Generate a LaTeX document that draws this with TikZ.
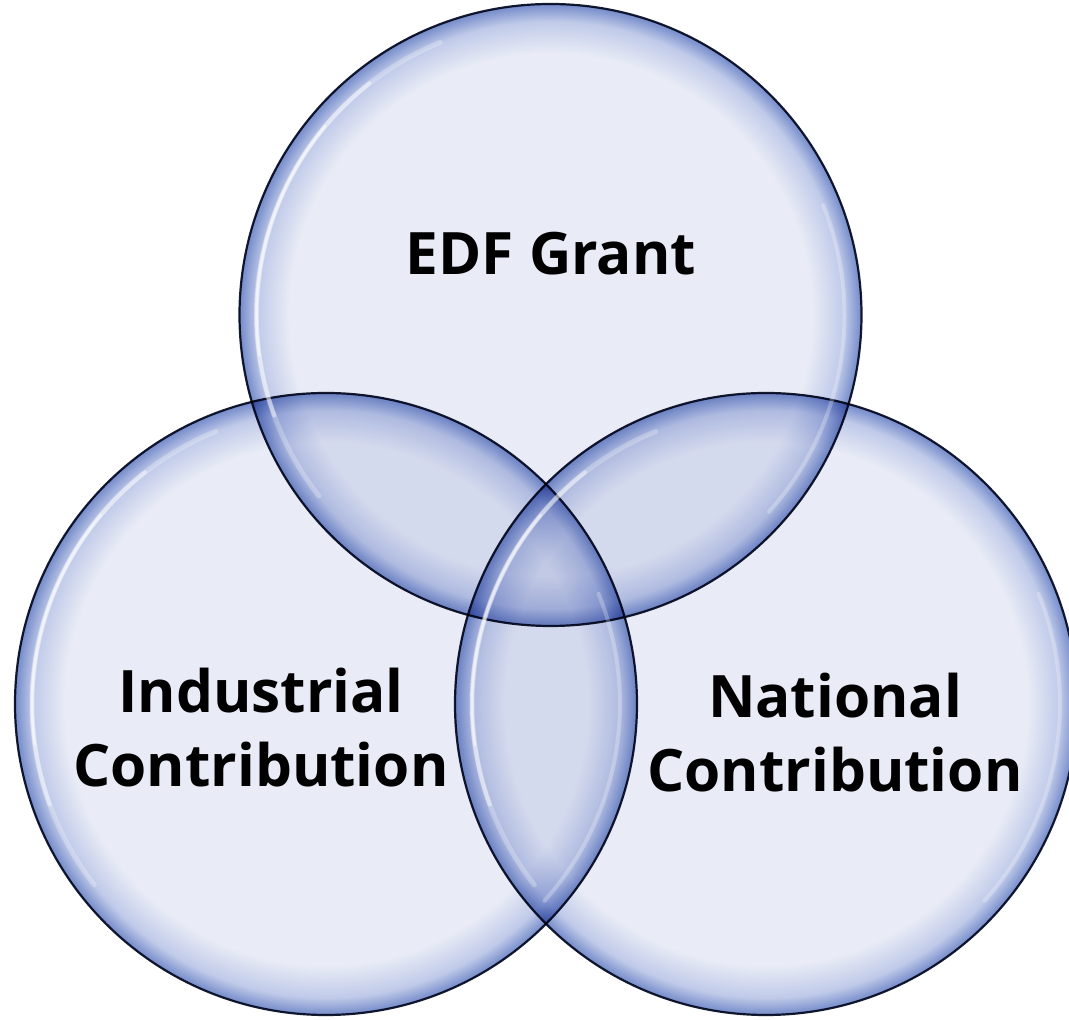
\documentclass[tikz,border=0pt]{standalone}
\usepackage{fontspec}
\setmainfont{Open Sans}
\definecolor{vfill}{HTML}{E9ECF6}
\definecolor{vmid}{HTML}{C0CAE9}
\definecolor{vedge}{HTML}{748BCA}
\definecolor{vline}{HTML}{161D33}
\pgfdeclareradialshading{venn}{\pgfpoint{0bp}{0bp}}{color(0bp)=(vfill); color(21bp)=(vfill); color(23.6bp)=(vmid); color(25bp)=(vedge); color(50bp)=(vedge)}
\tikzset{
  venncirc/.style={circle, minimum size=622pt, inner sep=0pt, shading=venn, draw=vline, line width=2.2pt},
  hilite/.style={white, line cap=round},
  lbl/.style={align=center, font=\bfseries\fontsize{58.5}{74}\selectfont, text=black}
}
\begin{document}
\begin{tikzpicture}[x=1pt,y=1pt]
\useasboundingbox (0,0) rectangle (1069,1020);
\begin{scope}[blend group=multiply]
\node[venncirc] (top) at (550.5,705) {};
\node[venncirc] (left) at (326,316) {};
\node[venncirc] (right) at (766,316) {};
\end{scope}
% glossy highlights
\foreach \c/\x/\y in {top/550.5/705, left/326/316, right/766/316}{
  \draw[hilite, line width=5pt, opacity=0.25] ([shift={(112:294)}]\x,\y) arc (112:218:294);
  \draw[hilite, line width=4pt, opacity=0.45] ([shift={(128:294)}]\x,\y) arc (128:200:294);
  \draw[hilite, line width=2.5pt, opacity=0.5] ([shift={(140:294)}]\x,\y) arc (140:188:294);
  \draw[hilite, line width=4pt, opacity=0.25] ([shift={(-42:294)}]\x,\y) arc (-42:22:294);
}
\node[lbl] (edf) at (551,766) {EDF Grant};
\node[lbl] (ind) at (261,292) {Industrial\\Contribution};
\node[lbl] (nat) at (835,287) {National\\Contribution};
\end{tikzpicture}
\end{document}
